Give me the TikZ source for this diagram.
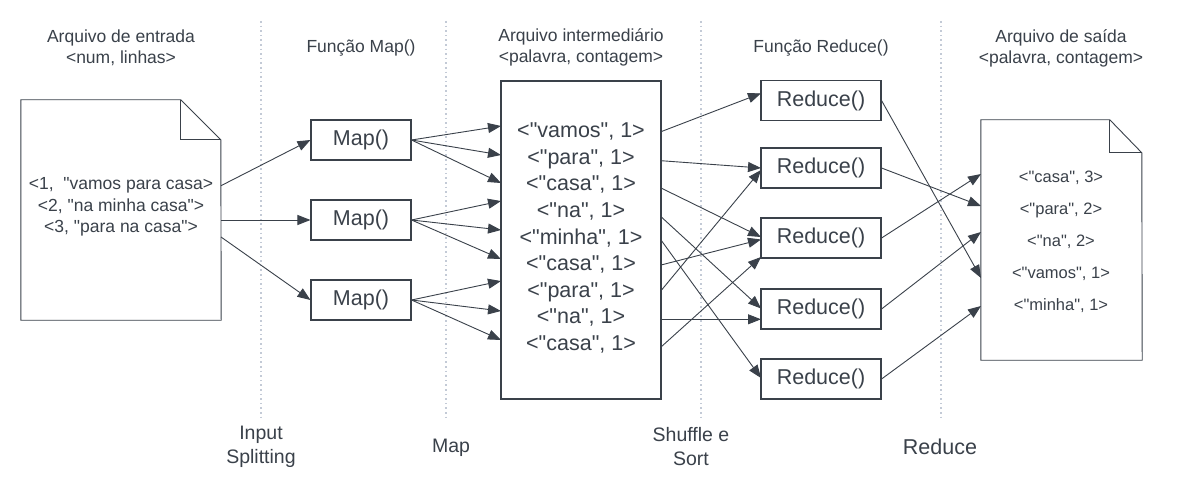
\documentclass[tikz,border=0pt]{standalone}
\usepackage{fontspec}
\setmainfont{Liberation Sans}[Ligatures=TeXOff]
\usetikzlibrary{arrows.meta}
\definecolor{ink}{HTML}{3A414A}
\definecolor{guidec}{HTML}{C3CAD6}
\begin{document}
\begin{tikzpicture}[x=1pt,y=-1pt,
  every node/.style={text=ink},
  hdr/.style={align=center, inner sep=0pt, font=\fontsize{17.5}{21}\selectfont},
  foot/.style={align=center, inner sep=0pt, font=\fontsize{19.5}{24}\selectfont},
  box/.style={draw=ink, line width=1.1pt, minimum height=40pt, inner sep=0pt, font=\fontsize{21.5}{26}\selectfont},
  mapbox/.style={box, minimum width=100pt},
  redbox/.style={box, minimum width=120pt},
  doc/.style={draw=ink, line width=0.9pt},
  arr/.style={draw=ink, line width=0.9pt, -{Triangle[length=13pt,width=10pt]}},
  guide/.style={draw=guidec, line width=1.6pt, dash pattern=on 1.6pt off 3pt},
]
\useasboundingbox[fill=white] (0,0) rectangle (1180,500);

% guides
\foreach \gx in {261,446,701,941} \draw[guide] (\gx,21) -- (\gx,417);

% headers
\node[hdr] (h1) at (121,47.5) {Arquivo de entrada\\<num, linhas>};
\node[hdr] (h2) at (361,48) {Função Map()};
\node[hdr] (h3) at (581,47.5) {Arquivo intermediário\\<palavra, contagem>};
\node[hdr] (h4) at (821,48) {Função Reduce()};
\node[hdr] (h5) at (1061,48.5) {Arquivo de saída\\<palavra, contagem>};

% footers
\node[foot] (f1) at (261,447) {Input\\Splitting};
\node[foot] (f2) at (451,448) {Map};
\node[foot] (f3) at (691,447) {Shuffle e\\Sort};
\node[foot, font=\fontsize{21.5}{26}\selectfont] (f4) at (940,447) {Reduce};

% input document
\node[inner sep=0pt, minimum width=200pt, minimum height=220pt] (indoc) at (121,210) {};
\draw[doc] (indoc.north west) -- ++(160,0) -- ++(40,40) -- (indoc.south east) -- (indoc.south west) -- cycle;
\draw[doc] ([xshift=160pt]indoc.north west) -- ++(0,40) -- ++(40,0);
\node[align=center, inner sep=0pt, font=\fontsize{17.5}{21.5}\selectfont] (intext) at (121,207)
  {<1,\ \ "vamos para casa>\\<2, "na minha casa">\\<3, "para na casa">};

% output document
\node[inner sep=0pt, minimum width=161pt, minimum height=240pt] (outdoc) at (1061.5,240) {};
\draw[doc] (outdoc.north west) -- ++(129,0) -- ++(32,33) -- (outdoc.south east) -- (outdoc.south west) -- cycle;
\draw[doc] ([xshift=129pt]outdoc.north west) -- ++(0,33) -- ++(32,0);
\node[align=center, inner sep=0pt, font=\fontsize{16.5}{32}\selectfont] (outtext) at (1061,242)
  {<"casa", 3>\\<"para", 2>\\<"na", 2>\\<"vamos", 1>\\<"minha", 1>};

% map boxes
\node[mapbox] (m1) at (361,140) {Map()};
\node[mapbox] (m2) at (361,220) {Map()};
\node[mapbox] (m3) at (361,300) {Map()};

% intermediate file
\node[draw=ink, line width=1.1pt, minimum width=160pt, minimum height=318pt, inner sep=0pt] (inter) at (581,240) {};
\node[align=center, inner sep=0pt, font=\fontsize{21.5}{26.65}\selectfont] (intertext) at (581,238)
  {<"vamos", 1>\\<"para", 1>\\<"casa", 1>\\<"na", 1>\\<"minha", 1>\\<"casa", 1>\\<"para", 1>\\<"na", 1>\\<"casa", 1>};

% reduce boxes
\node[redbox] (r1) at (821,100.5) {Reduce()};
\node[redbox] (r2) at (821,168) {Reduce()};
\node[redbox] (r3) at (821,238) {Reduce()};
\node[redbox] (r4) at (821,309) {Reduce()};
\node[redbox] (r5) at (821,379) {Reduce()};

% attachment coordinates
\coordinate (in1) at (221,185.7);
\coordinate (in2) at (221,220);
\coordinate (in3) at (221,237);
\foreach \n/\ty in {1/126,2/155,3/183,4/201,5/230,6/259,7/281,8/311,9/340}
  \coordinate (t\n) at (501,\ty);
\foreach \n/\sy in {1/131.7,2/160.7,3/188,4/216.7,5/240,6/265,7/290.7,8/319.3,9/347}
  \coordinate (s\n) at (661,\sy);
\coordinate (r1a) at (761,93.3);
\coordinate (r2a) at (761,168);
\coordinate (r2b) at (761,170);
\coordinate (r3a) at (761,237);
\coordinate (r3b) at (761,239.5);
\coordinate (r3c) at (761,257);
\coordinate (r4a) at (761,308.5);
\coordinate (r4b) at (761,319.3);
\coordinate (r5a) at (761,378);
\foreach \n/\oy in {1/278,2/206,3/174,4/232,5/306}
  \coordinate (o\n) at (981,\oy);

% input -> map
\draw[arr] (in1) -- (m1.west);
\draw[arr] (in2) -- (m2.west);
\draw[arr] (in3) -- (m3.west);

% map -> intermediate
\draw[arr] (m1.east) -- (t1);
\draw[arr] (m1.east) -- (t2);
\draw[arr] (m1.east) -- (t3);
\draw[arr] (m2.east) -- (t4);
\draw[arr] (m2.east) -- (t5);
\draw[arr] (m2.east) -- (t6);
\draw[arr] (m3.east) -- (t7);
\draw[arr] (m3.east) -- (t8);
\draw[arr] (m3.east) -- (t9);

% intermediate -> reduce
\draw[arr] (s1) -- (r1a);
\draw[arr] (s2) -- (r2a);
\draw[arr] (s3) -- (r3a);
\draw[arr] (s4) -- (r4a);
\draw[arr] (s5) -- (r5a);
\draw[arr] (s6) -- (r3b);
\draw[arr] (s7) -- (r2b);
\draw[arr] (s8) -- (r4b);
\draw[arr] (s9) -- (r3c);

% reduce -> output
\draw[arr] (r1.east) -- (o1);
\draw[arr] (r2.east) -- (o2);
\draw[arr] (r3.east) -- (o3);
\draw[arr] (r4.east) -- (o4);
\draw[arr] (r5.east) -- (o5);
\end{tikzpicture}
\end{document}
